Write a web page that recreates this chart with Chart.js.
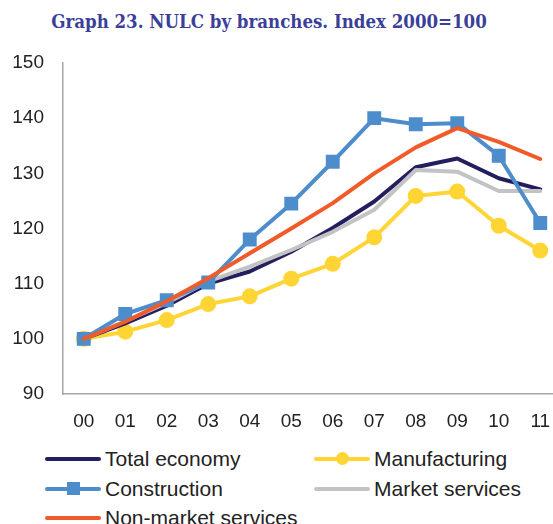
<!DOCTYPE html>
<html>
<head>
<meta charset="utf-8">
<script src="https://cdn.jsdelivr.net/npm/chart.js@4.4.1/dist/chart.umd.min.js"></script>
<style>
  html, body { margin: 0; padding: 0; background: #fff; overflow: hidden; }
  body { width: 553px; height: 524px; position: relative; }
  #title {
    position: absolute; left: 0; top: 10px; width: 538px; text-align: center; line-height: 24px;
    font-family: "DejaVu Serif Condensed", "DejaVu Serif", serif; font-stretch: condensed;
    font-weight: bold; font-size: 18.5px; color: #3b3f99;
  }
  #wrap { position: absolute; left: 0; top: 0; width: 572px; height: 440px; }
  #legend { position: absolute; left: 0; top: 0; width: 553px; font-family: "Liberation Sans", Arial, sans-serif; font-size: 21px; color: #222; }
  .item { position: absolute; height: 28px; display: flex; align-items: center; }
  .swatch { position: relative; width: 56px; height: 28px; margin-right: 4px; }
  .swatch .ln { position: absolute; left: 0; right: 0; top: 12px; height: 4px; border-radius: 2px; }
  .swatch .mk { position: absolute; left: 22px; top: 7px; width: 13px; height: 13px; }
</style>
</head>
<body>
<div id="title">Graph 23. NULC by branches. Index 2000=100</div>
<div id="wrap"><canvas id="chart"></canvas></div>
<div id="legend"></div>
<script>
// categories (years 2000-2011)
const years = ['00', '01', '02', '03', '04', '05', '06', '07', '08', '09', '10', '11'];

// series values
const totalEconomy = [100, 102.8, 106.0, 110.0, 112.2, 115.8, 120.1, 124.9, 131.1, 132.7, 129.1, 127.1];
const manufacturing = [100, 101.3, 103.4, 106.3, 107.7, 110.9, 113.6, 118.4, 125.9, 126.7, 120.5, 116.0];
const construction = [100, 104.5, 107.0, 110.2, 118.0, 124.5, 132.1, 140.0, 138.9, 139.1, 133.2, 121.0];
const marketServices = [100, 103.2, 106.5, 110.4, 113.1, 116.1, 119.4, 123.4, 130.6, 130.3, 126.8, 126.8];
const nonMarketServices = [100, 103.1, 106.8, 111.0, 115.5, 120.0, 124.6, 130.0, 134.7, 138.2, 135.7, 132.6];

// y axis ticks
const yMin = 90, yMax = 150, yStep = 10;

const navy = '#231f5f';
const yellow = '#ffd535';
const blue = '#4d8dcc';
const grey = '#c3c3c5';
const orange = '#f15a29';

function line(label, data, color, marker, order) {
    return {
        label: label,
        data: data,
        borderColor: color,
        backgroundColor: color,
        borderWidth: 4,
        pointStyle: marker || 'circle',
        pointRadius: marker ? (marker === 'rect' ? 7 : 6) : 0,
        pointHoverRadius: 0,
        tension: 0,
        order: order
    };
}

const datasets = [
    line('Total economy', totalEconomy, navy, null, 4),
    line('Manufacturing', manufacturing, yellow, 'circle', 5),
    line('Construction', construction, blue, 'rect', 2),
    line('Market services', marketServices, grey, null, 3),
    line('Non-market services', nonMarketServices, orange, null, 1)
];

new Chart(document.getElementById('chart'), {
    type: 'line',
    data: { labels: years, datasets: datasets },
    options: {
        responsive: true,
        maintainAspectRatio: false,
        animation: false,
        layout: { padding: { top: 63, right: 10, left: 0, bottom: 0 } },
        plugins: { legend: { display: false }, tooltip: { enabled: false } },
        elements: { line: { borderCapStyle: 'round', borderJoinStyle: 'round' } },
        scales: {
            x: {
                offset: true,
                grid: { display: false, drawTicks: false },
                border: { color: '#a6a6a6', width: 1.5 },
                ticks: { color: '#222', padding: 16, font: { family: 'Liberation Sans', size: 19 } },
                afterFit: (scale) => { scale.height = 46; }
            },
            y: {
                min: yMin, max: yMax,
                grid: { display: false, drawTicks: false },
                border: { color: '#a6a6a6', width: 1.5 },
                ticks: { stepSize: yStep, color: '#222', padding: 19, font: { family: 'Liberation Sans', size: 19 } },
                afterFit: (scale) => { scale.width = 63; }
            }
        }
    }
});

// legend in two columns like the original
const legendEl = document.getElementById('legend');
const slots = [[45, 445], [314, 445], [45, 474.5], [314, 474.5], [45, 504]];
datasets.forEach((ds, i) => {
    const item = document.createElement('div');
    item.className = 'item';
    item.style.left = slots[i][0] + 'px';
    item.style.top = slots[i][1] + 'px';
    let mk = '';
    if (ds.pointRadius > 0) {
        mk = '<div class="mk" style="background:' + ds.borderColor + ';' +
            (ds.pointStyle === 'circle' ? 'border-radius:50%;' : '') + '"></div>';
    }
    item.innerHTML = '<div class="swatch"><div class="ln" style="background:' + ds.borderColor + '"></div>' + mk + '</div>' +
        '<span>' + ds.label + '</span>';
    legendEl.appendChild(item);
});
</script>
</body>
</html>
